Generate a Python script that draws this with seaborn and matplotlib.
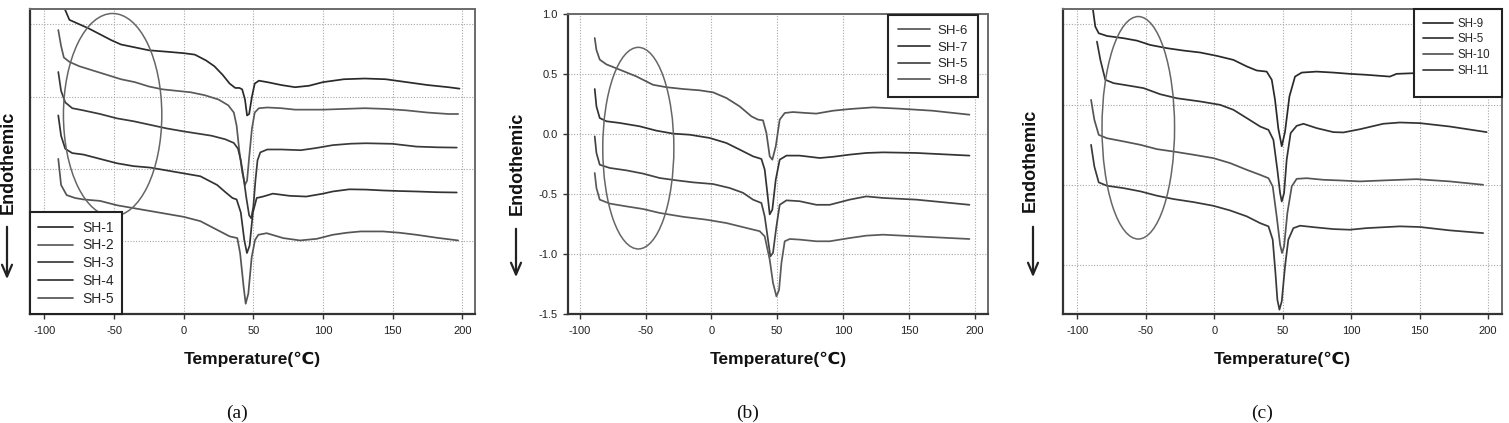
import numpy as np
import pandas as pd
import matplotlib.pyplot as plt
import seaborn as sns
from matplotlib.patches import Ellipse, Rectangle

# ---------------- data ----------------
# panel (a)
a_sh1_x = [-86, -82, -75, -68, -60, -52, -45, -35, -25, -12, 0, 8, 16, 22, 28, 33, 37, 40, 42, 44,
           45.5, 47, 49, 51, 54, 60, 70, 80, 90, 100, 115, 130, 145, 160, 175, 190, 198]
a_sh1_y = [0.62, 0.53, 0.50, 0.47, 0.43, 0.39, 0.36, 0.34, 0.32, 0.31, 0.30, 0.29, 0.25, 0.21, 0.15, 0.09,
           0.06, 0.06, 0.05, -0.02, -0.13, -0.12, 0.0, 0.09, 0.11, 0.10, 0.08, 0.065, 0.075, 0.10, 0.12,
           0.125, 0.12, 0.10, 0.08, 0.065, 0.055]
a_sh2_x = [-90, -88, -86, -82, -75, -65, -55, -45, -35, -25, -15, -5, 5, 15, 25, 32, 36, 38, 40, 42, 44,
           45.5, 47, 49, 51, 54, 60, 70, 80, 90, 100, 115, 130, 145, 160, 175, 190, 197]
a_sh2_y = [0.46, 0.35, 0.27, 0.24, 0.21, 0.18, 0.15, 0.12, 0.10, 0.07, 0.05, 0.04, 0.03, 0.01, -0.02, -0.06,
           -0.11, -0.20, -0.38, -0.52, -0.61, -0.58, -0.42, -0.22, -0.11, -0.08, -0.075, -0.08, -0.09, -0.09,
           -0.09, -0.085, -0.08, -0.085, -0.095, -0.11, -0.12, -0.12]
a_sh3_x = [-90, -88, -85, -80, -72, -60, -48, -36, -24, -12, 0, 10, 20, 30, 36, 39, 41, 43, 45, 47, 48.5,
           50, 51.5, 53, 55, 60, 70, 84, 95, 107, 120, 131, 150, 167, 182, 196]
a_sh3_y = [0.17, 0.04, -0.04, -0.08, -0.095, -0.12, -0.15, -0.17, -0.195, -0.22, -0.24, -0.255, -0.27,
           -0.295, -0.32, -0.36, -0.44, -0.56, -0.70, -0.82, -0.84, -0.76, -0.58, -0.44, -0.385, -0.365,
           -0.365, -0.37, -0.355, -0.335, -0.325, -0.322, -0.326, -0.345, -0.35, -0.352]
a_sh4_x = [-90, -88, -85, -80, -72, -60, -48, -36, -24, -12, 0, 12, 24, 30, 35, 38, 41, 43.5, 45.4, 47.3,
           49.7, 52.4, 57, 64, 76, 88, 100, 107, 119, 131, 143, 155, 167, 182, 196]
a_sh4_y = [-0.13, -0.27, -0.36, -0.39, -0.40, -0.43, -0.46, -0.48, -0.49, -0.51, -0.53, -0.55, -0.61, -0.66,
           -0.70, -0.71, -0.80, -0.99, -1.08, -1.03, -0.80, -0.70, -0.69, -0.67, -0.685, -0.69, -0.67,
           -0.655, -0.64, -0.642, -0.648, -0.652, -0.655, -0.66, -0.662]
a_sh5_x = [-90, -88, -84, -78, -72, -60, -48, -36, -24, -12, 0, 12, 24, 33, 38.5, 40.5, 43, 44.5, 46.4,
           48.8, 51.2, 53.6, 59.6, 71.5, 83.5, 95.5, 107, 117, 127, 143, 155, 167, 182, 197]
a_sh5_y = [-0.43, -0.61, -0.68, -0.70, -0.71, -0.72, -0.75, -0.77, -0.79, -0.81, -0.83, -0.86, -0.92,
           -0.965, -0.977, -1.08, -1.31, -1.43, -1.36, -1.11, -0.99, -0.954, -0.943, -0.977, -0.993, -0.982,
           -0.954, -0.94, -0.931, -0.931, -0.94, -0.954, -0.975, -0.993]

# panel (b)
b_sh6_x = [-88.6, -87.3, -84.8, -79.7, -69.6, -57, -44.3, -34.2, -21.5, -8.9, 1.3, 11.4, 21.5, 30.4, 35.4,
           39.2, 41.8, 44.3, 46.3, 48.9, 51.9, 55.7, 62, 72, 79.7, 92.4, 105, 122.8, 143, 168, 196]
b_sh6_y = [0.80, 0.70, 0.62, 0.58, 0.536, 0.48, 0.41, 0.39, 0.375, 0.364, 0.347, 0.30, 0.23, 0.147, 0.12,
           0.114, 0.008, -0.186, -0.214, -0.103, 0.12, 0.175, 0.183, 0.175, 0.17, 0.194, 0.208, 0.222, 0.211,
           0.194, 0.161]
b_sh7_x = [-88.6, -87.3, -84.8, -79.7, -69.6, -54.4, -41.8, -29, -16.5, -1.3, 11.4, 21.5, 31.6, 38, 40.5,
           42.5, 44.3, 46.3, 48.9, 51.9, 57, 67, 82.3, 92.4, 105, 117.7, 130.4, 155.7, 196]
b_sh7_y = [0.375, 0.23, 0.133, 0.106, 0.092, 0.064, 0.028, 0.003, -0.006, -0.033, -0.075, -0.13, -0.186,
           -0.208, -0.297, -0.49, -0.67, -0.63, -0.38, -0.214, -0.18, -0.18, -0.2, -0.19, -0.172, -0.158,
           -0.153, -0.158, -0.18]
b_sh5_x = [-88.6, -87.3, -84.8, -77.2, -64.6, -51.9, -39.2, -26.6, -13.9, 1.3, 13.9, 24, 31.6, 38, 40.5,
           43, 44.8, 46.8, 49.4, 51.9, 57, 67, 79.7, 89.9, 105, 117.7, 130.4, 155.7, 196]
b_sh5_y = [-0.02, -0.158, -0.256, -0.283, -0.303, -0.33, -0.367, -0.386, -0.403, -0.417, -0.45, -0.49,
           -0.547, -0.575, -0.686, -0.88, -1.02, -0.99, -0.77, -0.59, -0.553, -0.56, -0.59, -0.59, -0.547,
           -0.52, -0.533, -0.547, -0.59]
b_sh8_x = [-88.6, -87.3, -84.8, -77.2, -64.6, -51.9, -39.2, -21.5, -3.8, 11.4, 26.6, 36.7, 40.5, 44.3,
           46.8, 49.4, 51.4, 53.2, 55.7, 59.5, 67, 79.7, 89.9, 105, 117.7, 130.4, 155.7, 196]
b_sh8_y = [-0.325, -0.45, -0.547, -0.58, -0.603, -0.625, -0.658, -0.69, -0.714, -0.742, -0.783, -0.81,
           -0.853, -1.047, -1.24, -1.353, -1.3, -1.075, -0.894, -0.875, -0.88, -0.894, -0.894, -0.867,
           -0.847, -0.839, -0.853, -0.875]

# panel (c)
c_sh9_x = [-88.6, -86.9, -84.4, -78.4, -66.2, -56.5, -46.8, -34.6, -22.4, -10.3, 1.9, 14, 23.8, 31, 38.3,
           42, 44.4, 46.8, 49.3, 51.7, 54.9, 59, 63.9, 74.8, 87, 99.1, 111.3, 128.3, 133.2, 145.3, 160, 180, 198]
c_sh9_y = [1.09, 0.985, 0.944, 0.927, 0.913, 0.898, 0.871, 0.851, 0.836, 0.824, 0.803, 0.778, 0.737, 0.712,
           0.705, 0.654, 0.529, 0.35, 0.24, 0.33, 0.55, 0.674, 0.699, 0.705, 0.699, 0.691, 0.685, 0.674,
           0.691, 0.695, 0.70, 0.695, 0.685]
c_sh5_x = [-85.7, -83.2, -79.6, -73.5, -61.3, -51.6, -39.5, -27.3, -10.3, 4.3, 14, 23.8, 33.5, 39.6, 43.2,
           46.1, 48.1, 49.3, 51, 52.9, 55.8, 60.2, 65.1, 74.8, 87, 94.3, 106.4, 123.4, 135.6, 150.2, 172, 199]
c_sh5_y = [0.892, 0.778, 0.654, 0.633, 0.616, 0.602, 0.564, 0.539, 0.519, 0.498, 0.467, 0.415, 0.363,
           0.342, 0.28, 0.093, -0.052, -0.104, -0.052, 0.156, 0.322, 0.367, 0.38, 0.353, 0.328, 0.326,
           0.346, 0.38, 0.388, 0.384, 0.363, 0.328]
c_sh10_x = [-90, -87.6, -84.4, -78.4, -66.2, -54, -41.9, -29.7, -15.1, -0.6, 11.6, 23.8, 33.5, 39.6, 42.7,
            45.6, 48.1, 49.5, 51, 53.4, 56.6, 60.2, 67.5, 79.7, 91.8, 106.4, 123.4, 147.8, 172, 196.4]
c_sh10_y = [0.529, 0.405, 0.311, 0.29, 0.27, 0.249, 0.222, 0.207, 0.187, 0.166, 0.135, 0.093, 0.062,
            0.041, -0.01, -0.197, -0.373, -0.425, -0.384, -0.176, -0.01, 0.037, 0.041, 0.031, 0.027,
            0.021, 0.027, 0.035, 0.021, 0.0]
c_sh11_x = [-90, -87.6, -84.4, -78.4, -66.2, -54, -41.9, -29.7, -15.1, -0.6, 11.6, 23.8, 33.5, 39.6, 42.7,
            44.7, 46.1, 47.6, 49.3, 51.7, 54.1, 57.8, 62.7, 74.8, 87, 99.1, 111.3, 135.6, 150.2, 172, 196.4]
c_sh11_y = [0.249, 0.114, 0.015, -0.006, -0.021, -0.041, -0.068, -0.089, -0.108, -0.131, -0.16, -0.197,
            -0.239, -0.259, -0.342, -0.55, -0.716, -0.778, -0.726, -0.508, -0.342, -0.27, -0.255, -0.266,
            -0.276, -0.28, -0.27, -0.259, -0.263, -0.284, -0.301]

x_ticks = [-100, -50, 0, 50, 100, 150, 200]

sns.set_theme(style='white')
plt.rcParams['font.family'] = ['Liberation Sans', 'DejaVu Sans']
plt.rcParams['axes.unicode_minus'] = False

W, H = 1509, 423
def fx(px): return px / W
def fy(py): return 1 - py / H

fig = plt.figure(figsize=(W / 100, H / 100), dpi=100)
# axes boxes in pixels: left, top, right, bottom
boxes = [(30, 9, 475, 314), (568, 14, 988, 314), (1063, 9, 1502, 314)]
axs = [fig.add_axes([fx(l), fy(b), (r - l) / W, (b - t) / H]) for l, t, r, b in boxes]

def draw(ax, curves):
    for name, xs, ys, col in curves:
        sns.lineplot(x=xs, y=ys, color=col, lw=1.25, label=name, ax=ax, sort=False, estimator=None)

def style(ax, xlim, ylim, yticks, ylabels, box):
    ax.set_xlim(xlim)
    ax.set_ylim(ylim)
    ax.set_xticks(x_ticks)
    ax.set_yticks(yticks)
    ax.grid(True, ls=(0, (1, 1.5)), color='#a8a8a8', lw=0.8)
    for s in ['left', 'bottom']:
        ax.spines[s].set_color('#333333')
        ax.spines[s].set_linewidth(1.6)
    for s in ['top', 'right']:
        ax.spines[s].set_color('#6a6a6a')
        ax.spines[s].set_linewidth(1.4)
    ax.tick_params(axis='x', direction='out', length=3.5, width=1, color='#333333',
                   labelsize=8, labelcolor='#222222', pad=5, bottom=True)
    if ylabels:
        ax.tick_params(axis='y', direction='out', length=3.5, width=1, color='#333333',
                       labelsize=8, labelcolor='#222222', pad=4, left=True)
    else:
        ax.tick_params(axis='y', length=0, labelleft=False)
    ax.set_xlabel('Temperature(℃)', fontsize=12.5, fontweight='bold', color='#111111')
    l, t, r, b = box
    ax.xaxis.set_label_coords(0.5, (b - 352) / (b - t))
    ax.set_ylabel('')

# (a)
ax = axs[0]
draw(ax, [('SH-1', a_sh1_x, a_sh1_y, '#2a2a2a'), ('SH-2', a_sh2_x, a_sh2_y, '#5a5a5a'),
          ('SH-3', a_sh3_x, a_sh3_y, '#3a3a3a'), ('SH-4', a_sh4_x, a_sh4_y, '#333333'),
          ('SH-5', a_sh5_x, a_sh5_y, '#555555')])
style(ax, (-110.3, 209.1), (-1.501, 0.605), [-1.0, -0.5, 0, 0.5], False, boxes[0])
ax.add_patch(Ellipse((-51, -0.126), 70.6, 1.40, fill=False, ec='#666666', lw=1.1, zorder=3))
ax.legend(loc='lower left', bbox_to_anchor=(0, 0), borderaxespad=0, fontsize=10, frameon=True,
          fancybox=False, edgecolor='#222222', framealpha=1, handlelength=2.5, handletextpad=0.65,
          labelspacing=0.27, borderpad=0.6).get_frame().set_linewidth(1.5)

# (b)
ax = axs[1]
draw(ax, [('SH-6', b_sh6_x, b_sh6_y, '#555555'), ('SH-7', b_sh7_x, b_sh7_y, '#333333'),
          ('SH-5', b_sh5_x, b_sh5_y, '#444444'), ('SH-8', b_sh8_x, b_sh8_y, '#5a5a5a')])
style(ax, (-108.9, 210.1), (-1.5, 1.0), [-1.5, -1.0, -0.5, 0.0, 0.5, 1.0], True, boxes[1])
ax.add_patch(Ellipse((-55.5, -0.118), 54, 1.68, fill=False, ec='#666666', lw=1.1, zorder=3))
ax.legend(loc='upper right', bbox_to_anchor=(0.976, 0.997), borderaxespad=0, fontsize=9.5, frameon=True,
          fancybox=False, edgecolor='#222222', framealpha=1, handlelength=2.4, handletextpad=0.6,
          labelspacing=0.33, borderpad=0.75).get_frame().set_linewidth(1.5)

# (c)
ax = axs[2]
draw(ax, [('SH-9', c_sh9_x, c_sh9_y, '#2a2a2a'), ('SH-5', c_sh5_x, c_sh5_y, '#333333'),
          ('SH-10', c_sh10_x, c_sh10_y, '#555555'), ('SH-11', c_sh11_x, c_sh11_y, '#3a3a3a')])
style(ax, (-110.5, 210.2), (-0.805, 1.095), [-0.5, 0, 0.5, 1.0], False, boxes[2])
ax.add_patch(Ellipse((-55.5, 0.355), 53, 1.386, fill=False, ec='#666666', lw=1.1, zorder=3))
ax.add_patch(Rectangle((0.7995, 0.7115), 0.2005, 0.2885, transform=ax.transAxes, fc='white',
                       ec='#222222', lw=1.5, zorder=4, clip_on=False))
leg = ax.legend(loc='upper left', bbox_to_anchor=(0.7995, 1.0), borderaxespad=0, fontsize=8.3,
                frameon=False, handlelength=2.6, handletextpad=0.45, labelspacing=0.32, borderpad=0.75)
leg.set_zorder(6)

# y labels with downward arrows
for x_lab, y_lab, x_arr, y0, y1 in [(8, 162, 7, 224, 282), (517, 163, 516, 226, 280),
                                     (1030, 160, 1033, 224, 280)]:
    fig.text(fx(x_lab), fy(y_lab), 'Endothemic', rotation=90, fontsize=13, fontweight='bold',
             ha='center', va='center', color='#111111')
    axs[0].annotate('', xy=(fx(x_arr), fy(y1)), xytext=(fx(x_arr), fy(y0)), xycoords='figure fraction',
                    textcoords='figure fraction', annotation_clip=False,
                    arrowprops=dict(arrowstyle='->,head_length=0.7,head_width=0.3', lw=1.6, color='#222222'))

# sub-captions
for px, lab in [(237, '(a)'), (748, '(b)'), (1262, '(c)')]:
    fig.text(fx(px), fy(413), lab, fontsize=14, family=['Liberation Serif', 'DejaVu Serif'],
             ha='center', va='center', color='#111111')

plt.savefig('out.png', dpi=100)
